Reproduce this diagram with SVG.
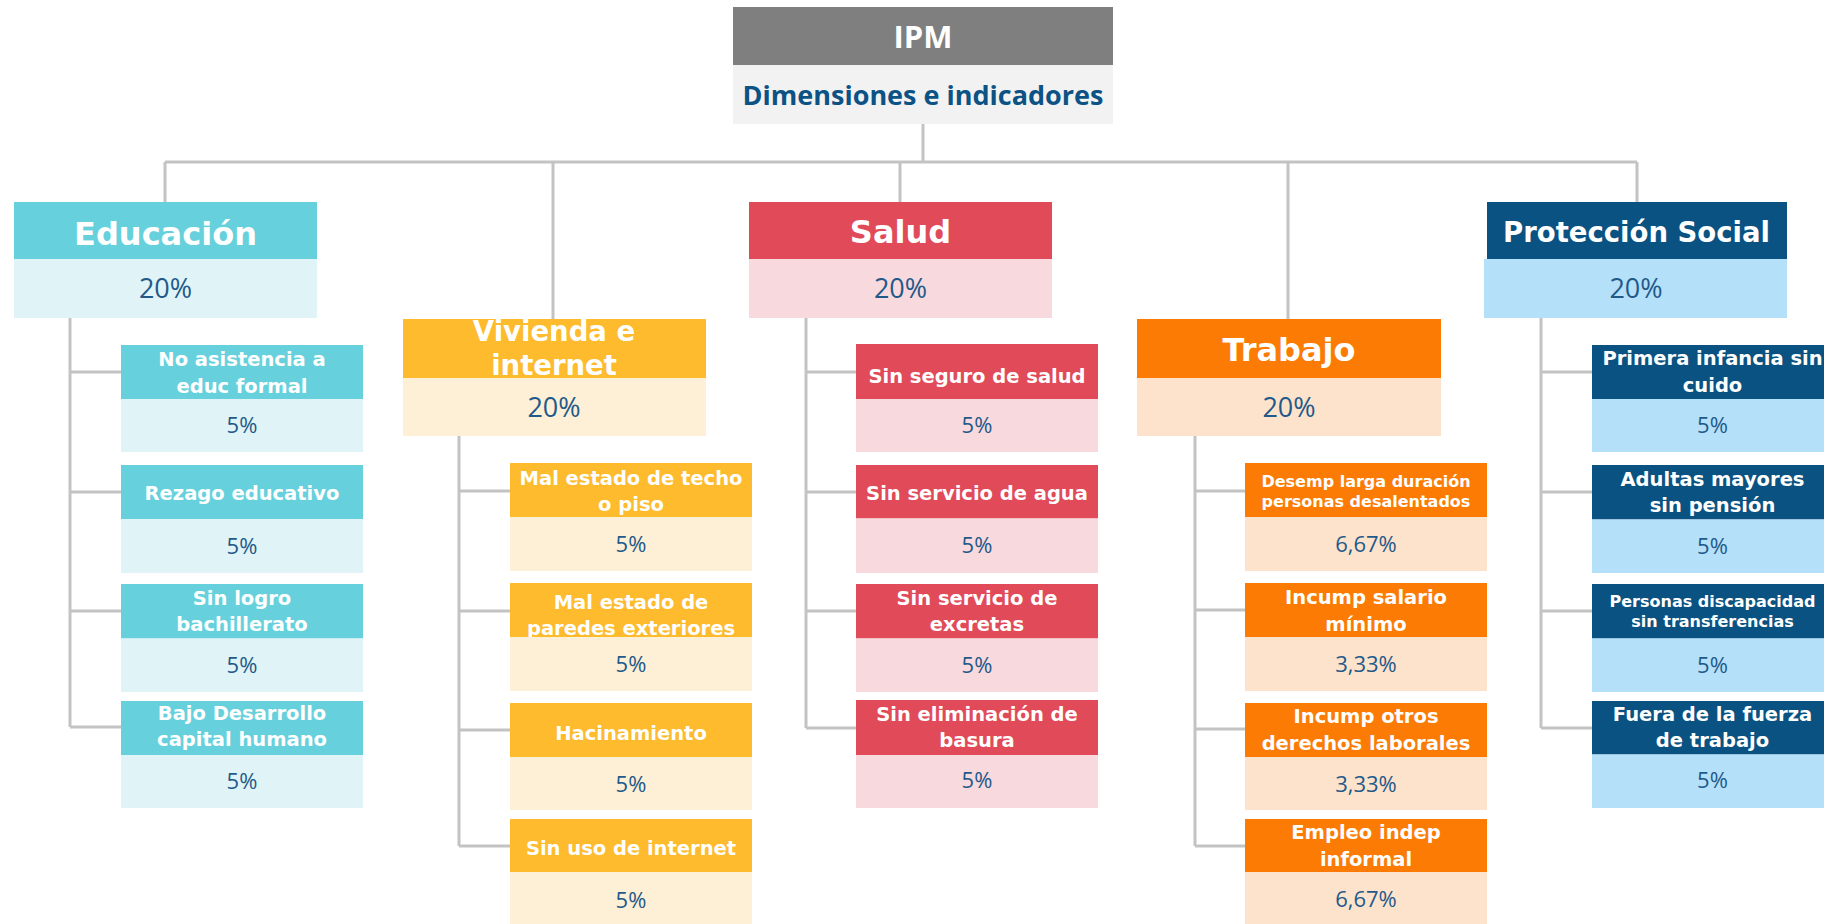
<svg xmlns="http://www.w3.org/2000/svg" width="1824" height="924" viewBox="0 0 1824 924">
<style>
.ln{stroke:#c3c3c3;stroke-width:3;fill:none}
.t{font-family:"DejaVu Sans","Noto Sans",sans-serif;font-weight:bold;fill:#fff;text-anchor:middle}
.dim{font-size:32px}
.dim2{font-size:27.5px}
.lab{font-size:19.5px}
.lab2{font-size:16px}
.pct{font-family:"Open Sans","Noto Sans",sans-serif;fill:#1f5a8a;text-anchor:middle}
.p1{font-size:27px}
.p2{font-size:22px}
.eh{fill:#66d1dc}.eb{fill:#e0f4f7}
.vh{fill:#fdbb2d}.vb{fill:#fef0d6}
.sh{fill:#e04a59}.sb{fill:#f8d9dd}
.th{fill:#fb7b05}.tb{fill:#fee3cc}
.ph{fill:#0a5281}.pb{fill:#b5e0f9}
</style>
<rect width="1824" height="924" fill="#fff"/>

<g id="ipm">
<rect x="733" y="7" width="380" height="58" fill="#7f7f7f"/>
<text x="923" y="48" font-family="'Open Sans',sans-serif" font-weight="bold" font-size="31" fill="#fff" text-anchor="middle">IPM</text>
<rect x="733" y="65" width="380" height="59" fill="#f2f2f2"/>
<text x="923" y="105" font-family="'Open Sans',sans-serif" font-weight="bold" font-size="27" fill="#0d5285" text-anchor="middle">Dimensiones e indicadores</text>
</g>

<!-- Educación -->
<g id="educacion">
<rect class="eh" x="14" y="202" width="303" height="57"/>
<text class="t dim" x="165.5" y="245">Educación</text>
<rect class="eb" x="14" y="259" width="303" height="59"/>
<text class="pct p1" x="165.5" y="298">20%</text>
</g>
<g id="edu1">
<rect class="eh" x="121" y="345" width="242" height="54"/>
<text class="t lab" x="242" y="366">No asistencia a</text>
<text class="t lab" x="242" y="392.7">educ formal</text>
<rect class="eb" x="121" y="399" width="242" height="53"/>
<text class="pct p2" x="242" y="433">5%</text>
</g>
<g id="edu2">
<rect class="eh" x="121" y="465" width="242" height="54"/>
<text class="t lab" x="242" y="499.5">Rezago educativo</text>
<rect class="eb" x="121" y="519" width="242" height="54"/>
<text class="pct p2" x="242" y="554">5%</text>
</g>
<g id="edu3">
<rect class="eh" x="121" y="584" width="242" height="54.5"/>
<text class="t lab" x="242" y="605">Sin logro</text>
<text class="t lab" x="242" y="630.7">bachillerato</text>
<rect class="eb" x="121" y="638.5" width="242" height="53.5"/>
<text class="pct p2" x="242" y="673">5%</text>
</g>
<g id="edu4">
<rect class="eh" x="121" y="701" width="242" height="54"/>
<text class="t lab" x="242" y="720">Bajo Desarrollo</text>
<text class="t lab" x="242" y="746">capital humano</text>
<rect class="eb" x="121" y="755" width="242" height="53"/>
<text class="pct p2" x="242" y="789">5%</text>
</g>

<!-- Vivienda -->
<g id="vivienda">
<rect class="vh" x="403" y="319" width="303" height="59"/>
<text class="t dim2" x="554" y="341">Vivienda e</text>
<text class="t dim2" x="554" y="375">internet</text>
<rect class="vb" x="403" y="378" width="303" height="58"/>
<text class="pct p1" x="554" y="416.7">20%</text>
</g>
<g id="viv1">
<rect class="vh" x="510" y="463" width="242" height="54"/>
<text class="t lab" x="631" y="485">Mal estado de techo</text>
<text class="t lab" x="631" y="511">o piso</text>
<rect class="vb" x="510" y="517" width="242" height="54"/>
<text class="pct p2" x="631" y="551.7">5%</text>
</g>
<g id="viv2">
<rect class="vh" x="510" y="583" width="242" height="54"/>
<text class="t lab" x="631" y="609.3">Mal estado de</text>
<text class="t lab" x="631" y="635.3">paredes exteriores</text>
<rect class="vb" x="510" y="637" width="242" height="54"/>
<text class="pct p2" x="631" y="671.7">5%</text>
</g>
<g id="viv3">
<rect class="vh" x="510" y="703" width="242" height="54"/>
<text class="t lab" x="631" y="740">Hacinamiento</text>
<rect class="vb" x="510" y="757" width="242" height="53"/>
<text class="pct p2" x="631" y="791.7">5%</text>
</g>
<g id="viv4">
<rect class="vh" x="510" y="819" width="242" height="53"/>
<text class="t lab" x="631" y="855">Sin uso de internet</text>
<rect class="vb" x="510" y="872" width="242" height="52"/>
<text class="pct p2" x="631" y="908">5%</text>
</g>

<!-- Salud -->
<g id="salud">
<rect class="sh" x="749" y="202" width="303" height="57"/>
<text class="t dim" x="900.5" y="243">Salud</text>
<rect class="sb" x="749" y="259" width="303" height="59"/>
<text class="pct p1" x="900.5" y="298">20%</text>
</g>
<g id="sal1">
<rect class="sh" x="856" y="344" width="242" height="55"/>
<text class="t lab" x="977" y="383">Sin seguro de salud</text>
<rect class="sb" x="856" y="399" width="242" height="53"/>
<text class="pct p2" x="977" y="433.3">5%</text>
</g>
<g id="sal2">
<rect class="sh" x="856" y="465" width="242" height="53.5"/>
<text class="t lab" x="977" y="500">Sin servicio de agua</text>
<rect class="sb" x="856" y="518.5" width="242" height="54.5"/>
<text class="pct p2" x="977" y="553.3">5%</text>
</g>
<g id="sal3">
<rect class="sh" x="856" y="584" width="242" height="54.5"/>
<text class="t lab" x="977" y="605">Sin servicio de</text>
<text class="t lab" x="977" y="631">excretas</text>
<rect class="sb" x="856" y="638.5" width="242" height="53.5"/>
<text class="pct p2" x="977" y="673.3">5%</text>
</g>
<g id="sal4">
<rect class="sh" x="856" y="700" width="242" height="55"/>
<text class="t lab" x="977" y="720.7">Sin eliminación de</text>
<text class="t lab" x="977" y="747.3">basura</text>
<rect class="sb" x="856" y="755" width="242" height="53"/>
<text class="pct p2" x="977" y="788.3">5%</text>
</g>

<!-- Trabajo -->
<g id="trabajo">
<rect class="th" x="1137" y="319" width="304" height="59"/>
<text class="t dim" x="1289" y="361">Trabajo</text>
<rect class="tb" x="1137" y="378" width="304" height="58"/>
<text class="pct p1" x="1289" y="416.7">20%</text>
</g>
<g id="tra1">
<rect class="th" x="1245" y="463" width="242" height="54"/>
<text class="t lab2" x="1366" y="486.7">Desemp larga duración</text>
<text class="t lab2" x="1366" y="506.7">personas desalentados</text>
<rect class="tb" x="1245" y="517" width="242" height="54"/>
<text class="pct p2" x="1366" y="551.7">6,67%</text>
</g>
<g id="tra2">
<rect class="th" x="1245" y="583" width="242" height="54"/>
<text class="t lab" x="1366" y="603.5">Incump salario</text>
<text class="t lab" x="1366" y="630.7">mínimo</text>
<rect class="tb" x="1245" y="637" width="242" height="54"/>
<text class="pct p2" x="1366" y="671.7">3,33%</text>
</g>
<g id="tra3">
<rect class="th" x="1245" y="703" width="242" height="54"/>
<text class="t lab" x="1366" y="723.3">Incump otros</text>
<text class="t lab" x="1366" y="750">derechos laborales</text>
<rect class="tb" x="1245" y="757" width="242" height="53"/>
<text class="pct p2" x="1366" y="791.7">3,33%</text>
</g>
<g id="tra4">
<rect class="th" x="1245" y="819" width="242" height="53"/>
<text class="t lab" x="1366" y="839.3">Empleo indep</text>
<text class="t lab" x="1366" y="865.7">informal</text>
<rect class="tb" x="1245" y="872" width="242" height="52"/>
<text class="pct p2" x="1366" y="906.7">6,67%</text>
</g>

<!-- Protección Social -->
<g id="proteccion">
<rect class="ph" x="1487" y="202" width="300" height="57"/>
<text class="t dim2" x="1636.5" y="241.7">Protección Social</text>
<rect class="pb" x="1484" y="259" width="303" height="59"/>
<text class="pct p1" x="1636" y="298">20%</text>
</g>
<g id="pro1">
<rect class="ph" x="1592" y="345" width="242" height="54"/>
<text class="t lab" x="1712.5" y="365">Primera infancia sin</text>
<text class="t lab" x="1712.5" y="391.7">cuido</text>
<rect class="pb" x="1592" y="399" width="242" height="53"/>
<text class="pct p2" x="1712.5" y="433.3">5%</text>
</g>
<g id="pro2">
<rect class="ph" x="1592" y="465" width="242" height="54.5"/>
<text class="t lab" x="1712.5" y="486">Adultas mayores</text>
<text class="t lab" x="1712.5" y="511.7">sin pensión</text>
<rect class="pb" x="1592" y="519.5" width="242" height="53.5"/>
<text class="pct p2" x="1712.5" y="554">5%</text>
</g>
<g id="pro3">
<rect class="ph" x="1592" y="584" width="242" height="54.5"/>
<text class="t lab2" x="1712.5" y="606.7">Personas discapacidad</text>
<text class="t lab2" x="1712.5" y="627.3">sin transferencias</text>
<rect class="pb" x="1592" y="638.5" width="242" height="53.5"/>
<text class="pct p2" x="1712.5" y="673.3">5%</text>
</g>
<g id="pro4">
<rect class="ph" x="1592" y="701" width="242" height="53.5"/>
<text class="t lab" x="1712.5" y="721">Fuera de la fuerza</text>
<text class="t lab" x="1712.5" y="746.7">de trabajo</text>
<rect class="pb" x="1592" y="754.5" width="242" height="53.5"/>
<text class="pct p2" x="1712.5" y="788.3">5%</text>
</g>

<g id="connectors" class="ln">
<path d="M923 124V162M165 162H1637M165 162V202M553 162V319M900 162V202M1288 162V319M1637 162V202"/>
<path d="M70 318V727M70 372H121M70 492H121M70 611H121M70 727H121"/>
<path d="M459 436V846M459 491H510M459 611H510M459 730H510M459 846H510"/>
<path d="M806 318V728M806 372H856M806 492H856M806 611H856M806 728H856"/>
<path d="M1195 436V846M1195 491H1245M1195 610H1245M1195 729H1245M1195 846H1245"/>
<path d="M1541 318V728M1541 372H1592M1541 492H1592M1541 611H1592M1541 728H1592"/>
</g>
</svg>
